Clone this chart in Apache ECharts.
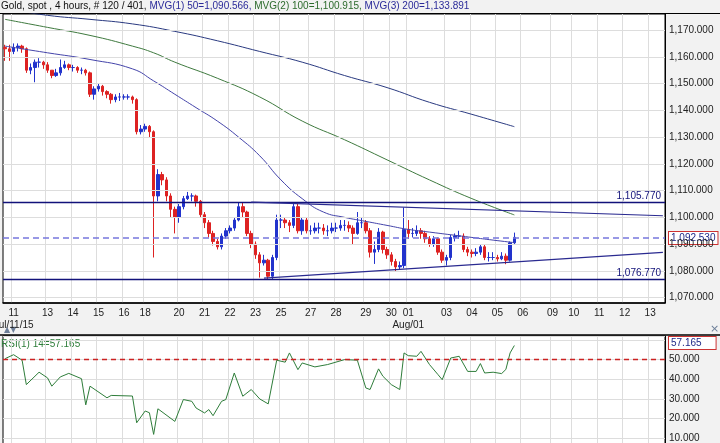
<!DOCTYPE html>
<html>
<head>
<meta charset="utf-8">
<script src="https://cdn.jsdelivr.net/npm/echarts@6/dist/echarts.min.js"></script>
<style>
html, body { margin: 0; padding: 0; background: #f2f2f2; }
#chart { width: 720px; height: 443px; }
</style>
</head>
<body>
<div id="chart"></div>
<script>
// 日线标签 (4小时K线的槽位)
var dayTicks = ['11', '13', '14', '15', '16', '18', '20', '21', '22', '23', '25', '27', '28', '29', '30', '01', '03', '04', '05', '06', '09', '10', '11', '12', '13'];
var dayTickSlots = [2, 10, 16, 22, 28, 33, 41, 47, 53, 59, 65, 72, 78, 85, 91, 95, 104, 110, 116, 122, 129, 134, 140, 146, 152];
var monthLabels = {2: 'Jul/11/15', 95: 'Aug/01'};
var slotCount = 156;
var firstOpen = 1163.5;

// 收盘价
var closes = [1163, 1162, 1163.5, 1164, 1163, 1155, 1156, 1158, 1158, 1157,
    1155, 1153, 1154, 1156, 1157, 1156, 1156, 1155, 1155, 1154,
    1146, 1148, 1149, 1147, 1146, 1144, 1145, 1145, 1145, 1145,
    1144, 1132, 1133, 1134, 1132, 1108, 1116, 1114, 1108, 1103,
    1100, 1104, 1107, 1108, 1108, 1106, 1101, 1098, 1094, 1091,
    1089, 1093, 1095, 1096, 1099, 1104, 1102, 1094, 1090, 1086,
    1083, 1084, 1078, 1085, 1099, 1099, 1098, 1097, 1104, 1095,
    1099, 1095, 1095, 1096, 1096, 1095, 1095, 1096, 1096, 1097,
    1097, 1096, 1094, 1098, 1098, 1095, 1087, 1088, 1094.5, 1088,
    1086, 1083.5, 1081.5, 1082, 1095.5, 1094, 1094, 1095, 1094, 1092,
    1090, 1092, 1087, 1084, 1085, 1092.5, 1093, 1093, 1088, 1087,
    1086.5, 1087, 1089, 1085, 1085, 1085, 1084.5, 1085.5, 1084, 1090.5,
    1092.53];
// 最高价
var highs = [1164.5, 1164.5, 1165, 1165, 1164.5, 1163.5, 1157.5, 1159, 1159.5, 1158.5,
    1158, 1155, 1155.5, 1159, 1158.5, 1157.5, 1157, 1156.5, 1156, 1155.5,
    1154.5, 1149, 1150, 1149.5, 1147.5, 1146.5, 1146, 1146.5, 1146, 1146,
    1145.5, 1144.5, 1134.5, 1135, 1134.5, 1132.5, 1118, 1117, 1115, 1109,
    1104, 1105, 1108, 1109.5, 1109, 1108.5, 1106.5, 1102, 1099, 1095,
    1092, 1094, 1096, 1097, 1100, 1105.6, 1105.5, 1102.5, 1095, 1091,
    1087, 1086, 1084.5, 1086, 1101, 1101, 1100, 1099, 1105.5, 1105,
    1100, 1100, 1097, 1098, 1098, 1097.5, 1097, 1098, 1098, 1099,
    1099, 1098.5, 1097, 1102, 1100, 1099, 1096, 1091, 1096, 1095,
    1089, 1087, 1084.5, 1083.5, 1103.7, 1099, 1096, 1097, 1096, 1095,
    1093, 1093, 1092.5, 1088, 1086, 1093.5, 1094, 1095, 1094, 1089,
    1088, 1088.5, 1090, 1090, 1087, 1087, 1086, 1087, 1086.5, 1091,
    1094.3];
// 最低价
var lows = [1158.5, 1158.5, 1161, 1162, 1161.5, 1154, 1153.5, 1150.5, 1156, 1155.5,
    1154, 1152, 1152.5, 1153, 1155.5, 1155, 1154.5, 1154, 1153.5, 1153,
    1145, 1144, 1147, 1145.5, 1144.5, 1142.5, 1143, 1143.5, 1144, 1144,
    1142.5, 1131, 1131, 1132, 1130, 1085, 1106, 1112, 1106, 1100,
    1094, 1098, 1103, 1106.5, 1106, 1104, 1100, 1096, 1092.5, 1089.5,
    1088, 1088, 1092, 1094, 1095, 1098.5, 1100, 1093, 1088.5, 1084.5,
    1077.5, 1082, 1077, 1077, 1084, 1096, 1096, 1094.5, 1096, 1094,
    1093.5, 1094, 1093.5, 1094, 1094, 1093.5, 1093, 1094, 1094.5, 1095,
    1095, 1094.5, 1090, 1093.5, 1096, 1094, 1085, 1082.6, 1087, 1086.5,
    1084.5, 1082, 1079.8, 1080.5, 1081, 1092, 1092.5, 1093, 1092, 1090.5,
    1089, 1089, 1086, 1083, 1082, 1084, 1091, 1092, 1087, 1085.5,
    1085, 1085.5, 1086, 1084, 1083.5, 1084, 1083.5, 1084, 1082.5, 1083.5,
    1090];

// 均线 [槽位, 值]
var mvg50 = [[0, 1164], [10, 1161.5], [20, 1159], [30, 1155.5], [35, 1151], [40, 1146], [45, 1141], [50, 1136],
    [55, 1130], [60, 1123], [65, 1114], [70, 1107], [75, 1102], [80, 1100], [85, 1098.5], [90, 1097],
    [95, 1095.5], [100, 1094.5], [105, 1093.5], [110, 1092.5], [115, 1091.5], [120, 1090.566]];
var mvg100 = [[0, 1174], [10, 1171], [20, 1168], [30, 1164], [35, 1161.5], [40, 1158], [50, 1152], [60, 1145],
    [70, 1136], [80, 1129], [90, 1121.5], [100, 1114], [110, 1107], [120, 1100.915]];
var mvg200 = [[0, 1178], [10, 1175.5], [20, 1174], [30, 1172.3], [40, 1169.5], [50, 1166], [60, 1162],
    [70, 1158], [80, 1153], [90, 1148.5], [100, 1143], [110, 1138.5], [120, 1133.891]];

// RSI [槽位, 值]
var rsi = [[0, 50.5], [2, 52.5], [4, 49.7], [5, 37.3], [8, 43.6], [10, 40.7], [11, 36.5], [13, 41.2], [15, 43],
    [18, 40.3], [19, 27], [20, 36.5], [24, 30.6], [25, 31.8], [30, 31.5], [31, 17.9], [33, 23.9], [34, 23],
    [35, 12], [36, 25], [40, 18.6], [42, 29.7], [44, 28.8], [45, 25.4], [47, 22.9], [48, 24.6], [49, 21.5],
    [51, 28.8], [52, 29.7], [54, 43.2], [56, 31.4], [58, 34.8], [60, 30], [62, 27.5], [64, 49.7], [66, 48.7],
    [67, 53.4], [69, 44.9], [70, 48.3], [73, 46.3], [76, 47.5], [80, 50], [83, 49.7], [85, 35.6], [86, 34.8],
    [88, 45.3], [89, 41.6], [91, 37.3], [93, 34.8], [94, 53.4], [95, 52], [97, 51.7], [98, 54.2], [100, 47.5],
    [102, 42.4], [103, 39.8], [105, 50.8], [107, 51.7], [109, 44], [111, 44], [112, 48], [113, 43.2],
    [115, 43.6], [117, 42.9], [118, 45], [119, 53.4], [120, 57.165]];

var priceTicks = [1070, 1080, 1090, 1100, 1110, 1120, 1130, 1140, 1150, 1160, 1170];
var levelHigh = 1105.77, levelLow = 1076.77, lastPrice = 1092.53;
var channelTop = [[58, 1105.7], [155, 1100.6]];
var channelBottom = [[61, 1077.3], [155, 1086.9]];

var categories = [];
for (var i = 0; i < slotCount; i++) {
    var k = dayTickSlots.indexOf(i);
    categories.push(k >= 0 ? dayTicks[k] : '');
}
var candles = [];
closes.forEach(function (c, i) {
    var o = i === 0 ? firstOpen : closes[i - 1];
    candles.push([o, c, lows[i], highs[i]]);
});

function fmt(v) {
    return v.toLocaleString('en-US', {minimumFractionDigits: 3, maximumFractionDigits: 3});
}
function isDay(idx) { return dayTickSlots.indexOf(idx) >= 0; }

var FONT = 'Liberation Sans';
var chart = echarts.init(document.getElementById('chart'));
var option = {
    backgroundColor: '#f2f2f2',
    animation: false,
    textStyle: {fontFamily: FONT},
    grid: [
        {left: 3, right: 55, top: 14, height: 289, outerBoundsMode: 'none', containLabel: false,
            backgroundColor: '#fff', show: true, borderColor: '#000', borderWidth: 1},
        {left: 3, right: 55, top: 336, height: 122, outerBoundsMode: 'none', containLabel: false,
            backgroundColor: '#fff', show: true, borderColor: '#000', borderWidth: 1}
    ],
    xAxis: [
        {
            type: 'category', gridIndex: 0, data: categories, boundaryGap: true,
            axisLine: {lineStyle: {color: '#000', width: 1.5}},
            axisTick: {show: false},
            axisLabel: {
                interval: 0, color: '#222', fontSize: 10, margin: 4, lineHeight: 12,
                formatter: function (v, idx) {
                    return monthLabels[idx] ? v + '\n' + monthLabels[idx] : v;
                }
            },
            splitLine: {show: true, interval: function (idx) { return isDay(idx); }, lineStyle: {color: '#ddd'}}
        },
        {
            type: 'category', gridIndex: 1, data: categories, boundaryGap: true,
            axisLine: {show: false}, axisTick: {show: false}, axisLabel: {show: false},
            splitLine: {show: true, interval: function (idx) { return isDay(idx); }, lineStyle: {color: '#ddd'}}
        }
    ],
    yAxis: [
        {
            type: 'value', gridIndex: 0, position: 'right', min: 1068, max: 1176, interval: 2,
            axisLine: {show: true, lineStyle: {color: '#000'}},
            axisTick: {show: false},
            splitLine: {show: false},
            axisLabel: {
                color: '#222', fontSize: 10, margin: 4,
                formatter: function (v) { return priceTicks.indexOf(v) >= 0 ? fmt(v) : ''; }
            }
        },
        {
            type: 'value', gridIndex: 1, position: 'right', min: 0, max: 62, interval: 10,
            axisLine: {show: true, lineStyle: {color: '#000'}},
            axisTick: {show: false},
            splitLine: {show: true, lineStyle: {color: '#ddd'}},
            axisLabel: {
                color: '#222', fontSize: 10, margin: 4,
                formatter: function (v) { return v > 0 && v < 60 ? fmt(v) : ''; }
            }
        }
    ],
    series: [
        {
            type: 'line', xAxisIndex: 0, yAxisIndex: 0, data: [], silent: true,
            markLine: {
                symbol: 'none', silent: true, label: {show: false},
                lineStyle: {color: '#ddd', type: 'solid', width: 1},
                data: priceTicks.map(function (p) { return {yAxis: p}; })
            }
        },
        {
            type: 'candlestick', xAxisIndex: 0, yAxisIndex: 0, data: candles, barWidth: 3,
            itemStyle: {color: '#2233cc', color0: '#dd2222', borderColor: '#2233cc', borderColor0: '#dd2222', borderWidth: 1},
            markLine: {
                symbol: 'none', silent: true,
                data: [
                    {yAxis: levelHigh, lineStyle: {color: '#12127a', width: 1.3, type: 'solid'},
                        label: {show: true, position: 'insideEndTop', formatter: fmt(levelHigh), color: '#12127a', fontSize: 10, distance: [4, 1]}},
                    {yAxis: levelLow, lineStyle: {color: '#12127a', width: 1.3, type: 'solid'},
                        label: {show: true, position: 'insideEndTop', formatter: fmt(levelLow), color: '#12127a', fontSize: 10, distance: [4, 1]}},
                    {yAxis: lastPrice, lineStyle: {color: '#7777dd', width: 1.5, type: [6, 4]}, label: {show: false}},
                    [{coord: channelTop[0], lineStyle: {color: '#2a2a90', width: 1.2, type: 'solid'}, label: {show: false}}, {coord: channelTop[1]}],
                    [{coord: channelBottom[0], lineStyle: {color: '#2a2a90', width: 1.2, type: 'solid'}, label: {show: false}}, {coord: channelBottom[1]}]
                ]
            }
        },
        {type: 'line', xAxisIndex: 0, yAxisIndex: 0, data: mvg50, showSymbol: false, smooth: true, lineStyle: {color: '#4444aa', width: 1}},
        {type: 'line', xAxisIndex: 0, yAxisIndex: 0, data: mvg100, showSymbol: false, smooth: true, lineStyle: {color: '#3f7a3f', width: 1}},
        {type: 'line', xAxisIndex: 0, yAxisIndex: 0, data: mvg200, showSymbol: false, smooth: true, lineStyle: {color: '#2a3a80', width: 1}},
        {
            type: 'line', xAxisIndex: 1, yAxisIndex: 1, data: rsi, showSymbol: false, lineStyle: {color: '#2e7d3a', width: 1},
            markLine: {
                symbol: 'none', silent: true, label: {show: false},
                lineStyle: {color: '#cc2222', type: [5, 4], width: 1.3},
                data: [{yAxis: 50}]
            }
        }
    ],
    graphic: [
        {type: 'rect', left: 0, top: 0, shape: {width: 720, height: 13}, style: {fill: '#f2f2f2'}},
        {type: 'line', shape: {x1: 0, y1: 13.5, x2: 720, y2: 13.5}, style: {stroke: '#000', lineWidth: 1}},
        {
            type: 'text', left: 1, top: 1,
            style: {
                text: '{a|Gold, spot , 4 hours, # 120 / 401, }{b|MVG(1) 50=1,090.566, }{c|MVG(2) 100=1,100.915, }{b|MVG(3) 200=1,133.891}',
                rich: {
                    a: {fill: '#111', fontSize: 10, fontFamily: FONT},
                    b: {fill: '#2a2a99', fontSize: 10, fontFamily: FONT},
                    c: {fill: '#2d6b2d', fontSize: 10, fontFamily: FONT}
                }
            }
        },
        {type: 'text', left: 1, top: 339, style: {text: 'RSI(1) 14=57.165', fill: '#2e7d3a', fontSize: 10, fontFamily: FONT}},
        {type: 'line', shape: {x1: 0, y1: 335, x2: 720, y2: 335}, style: {stroke: '#000', lineWidth: 1.5}},
        {type: 'text', left: 4, top: 326, style: {text: '▲▼', fill: '#6d7f99', fontSize: 8, fontFamily: 'DejaVu Sans'}},
        {type: 'text', left: 710, top: 324, style: {text: '×', fill: '#6d7f99', fontSize: 11, fontFamily: 'DejaVu Sans'}},
        {
            type: 'text', left: 668, top: 231,
            style: {text: fmt(lastPrice), fill: '#1f2a88', fontSize: 10, fontFamily: FONT,
                backgroundColor: '#fff', borderColor: '#cc3333', borderWidth: 1, padding: [1, 2]}
        },
        {
            type: 'text', left: 668, top: 336,
            style: {text: '57.165', fill: '#1f2a88', fontSize: 10, fontFamily: FONT,
                backgroundColor: '#fff', borderColor: '#cc3333', borderWidth: 1, padding: [1, 14, 1, 2]}
        }
    ]
};
chart.setOption(option);
</script>
</body>
</html>
